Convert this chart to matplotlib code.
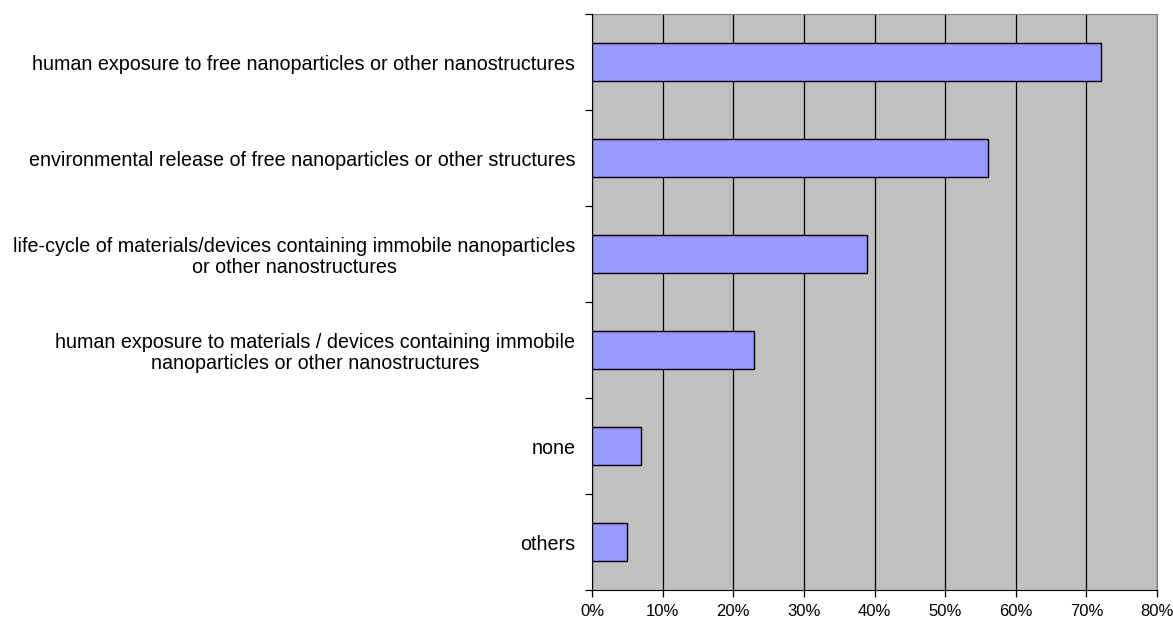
import numpy as np
import matplotlib
matplotlib.use('Agg')
import matplotlib.pyplot as plt
from matplotlib.ticker import FixedLocator, PercentFormatter

categories = [
    'human exposure to free nanoparticles or other nanostructures',
    'environmental release of free nanoparticles or other structures',
    'life-cycle of materials/devices containing immobile nanoparticles\nor other nanostructures',
    'human exposure to materials / devices containing immobile\nnanoparticles or other nanostructures',
    'none',
    'others',
]
shares = [72, 56, 39, 23, 7, 5]


def main():
    plt.rcParams['font.family'] = ['Liberation Sans', 'DejaVu Sans']

    fig = plt.figure(figsize=(11.73, 6.19), dpi=100)
    ax = fig.add_axes([592 / 1173, 29 / 619, 565 / 1173, 576 / 619])
    ax.set_facecolor('#c0c0c0')

    y = np.arange(len(categories))
    ax.barh(y, shares, height=0.4, color='#9999ff', edgecolor='black', linewidth=1.0, zorder=3)

    ax.set_xlim(0, 80)
    ax.set_ylim(len(categories) - 0.5, -0.5)

    ax.set_xticks(np.arange(0, 81, 10))
    ax.xaxis.set_major_formatter(PercentFormatter(decimals=0))
    ax.grid(axis='x', color='black', linewidth=0.9, zorder=1)

    ax.set_yticks(y)
    ax.set_yticklabels(categories, multialignment='center', linespacing=1.15)
    ax.yaxis.set_minor_locator(FixedLocator(np.arange(-0.5, len(categories), 1.0)))
    ax.tick_params(axis='y', which='major', length=0, pad=12, labelsize=14.2)
    ax.tick_params(axis='y', which='minor', length=5, width=0.9, color='black')
    ax.tick_params(axis='x', length=5, width=0.9, pad=5, labelsize=12)

    for side in ['top', 'right']:
        ax.spines[side].set_color('#808080')
    ax.spines['left'].set_color('black')
    ax.spines['bottom'].set_color('black')
    ax.spines['left'].set_zorder(4)

    fig.savefig('out.png', dpi=100)


if __name__ == '__main__':
    main()
